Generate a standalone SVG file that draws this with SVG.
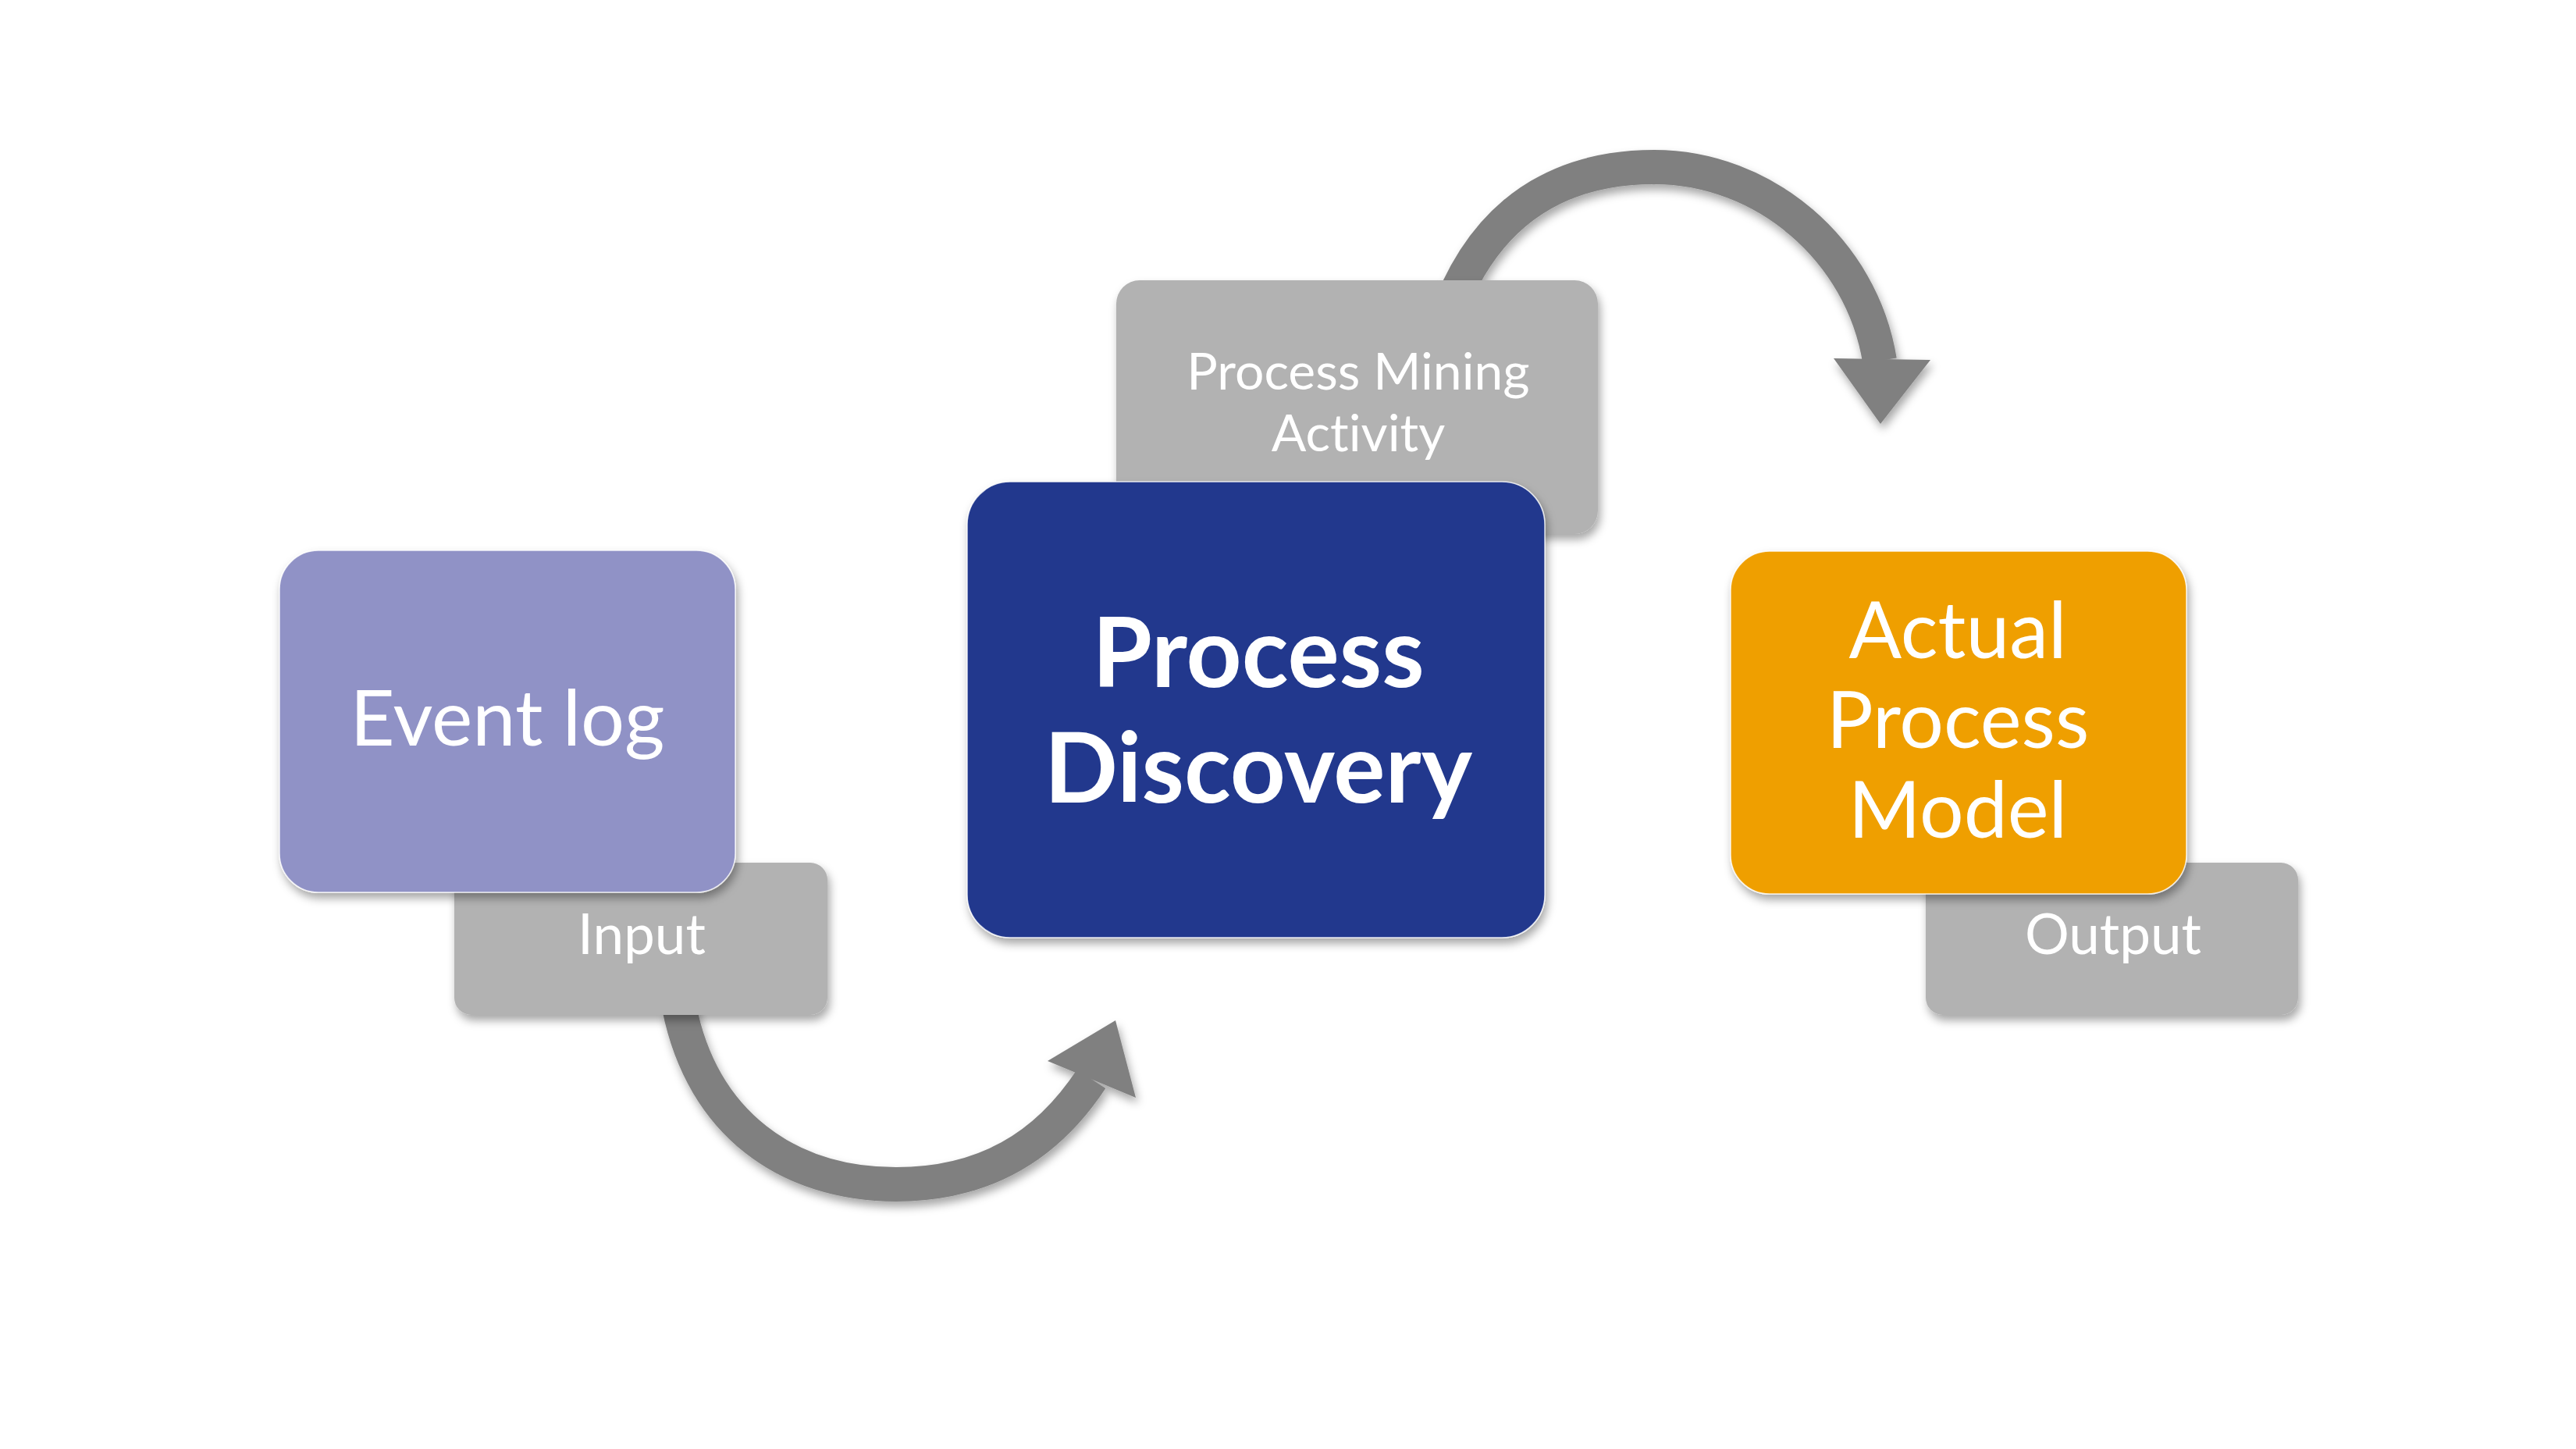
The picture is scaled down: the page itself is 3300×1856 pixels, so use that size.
<svg xmlns="http://www.w3.org/2000/svg" width="3300" height="1856" viewBox="0 0 3300 1856">
<defs>
<style>
.lbl{font-family:Lato,'Open Sans','Liberation Sans',sans-serif;fill:#fff;text-anchor:middle;font-variant-ligatures:none}
.bold{font-weight:700}
.tag{fill:#B2B2B2}
.main{stroke:#ffffff;stroke-width:1.5;stroke-opacity:0.8}
.conn{fill:none;stroke:#808080;stroke-width:44}
.head{fill:#808080}
</style>
<filter id="sh" x="-10%" y="-10%" width="130%" height="140%">
<feDropShadow dx="3" dy="7" stdDeviation="6" flood-color="#000" flood-opacity="0.35"/>
</filter>
</defs>
<rect width="3300" height="1856" fill="#ffffff"/>
<g id="connectors" filter="url(#sh)">
<g id="arrow-input-to-discovery">
<path class="conn" d="M870,1290 C900,1440 1010,1517 1148,1517 C1260,1517 1340,1470 1398,1382"/>
<polygon class="head" points="1429,1307 1342,1359 1455,1406"/>
</g>
<g id="arrow-activity-to-model">
<path class="conn" d="M1868,370 C1920,260 2010,214 2119,214 C2260,214 2385,320 2408,462"/>
<polygon class="head" points="2349,459 2473,461 2409,543"/>
</g>
</g>
<g id="input" filter="url(#sh)">
<rect class="tag" x="582" y="1105" width="478" height="195" rx="22"/>
<text class="lbl" x="822" y="1222" font-size="71">Input</text>
</g>
<g id="event-log" filter="url(#sh)">
<rect class="main" x="358" y="705" width="584" height="438" rx="50" fill="#9092C6"/>
<text class="lbl" x="650" y="955" font-size="99">Event log</text>
</g>
<g id="process-mining-activity" filter="url(#sh)">
<rect class="tag" x="1430" y="359" width="617" height="325" rx="30"/>
<text class="lbl" x="1740" y="499" font-size="66">Process Mining</text>
<text class="lbl" x="1740" y="578" font-size="66">Activity</text>
</g>
<g id="process-discovery" filter="url(#sh)">
<rect class="main" x="1239" y="617" width="740" height="584" rx="55" fill="#21398D"/>
<text class="lbl bold" x="1612" y="880" font-size="124">Process</text>
<text class="lbl bold" x="1612" y="1028" font-size="124">Discovery</text>
</g>
<g id="output" filter="url(#sh)">
<rect class="tag" x="2467" y="1105" width="477" height="195" rx="22"/>
<text class="lbl" x="2707" y="1222" font-size="71">Output</text>
</g>
<g id="actual-process-model" filter="url(#sh)">
<rect class="main" x="2217" y="706" width="584" height="439" rx="50" fill="#EF9F00"/>
<text class="lbl" x="2508" y="843" font-size="100">Actual</text>
<text class="lbl" x="2508" y="958" font-size="100">Process</text>
<text class="lbl" x="2508" y="1073" font-size="100">Model</text>
</g>
</svg>
